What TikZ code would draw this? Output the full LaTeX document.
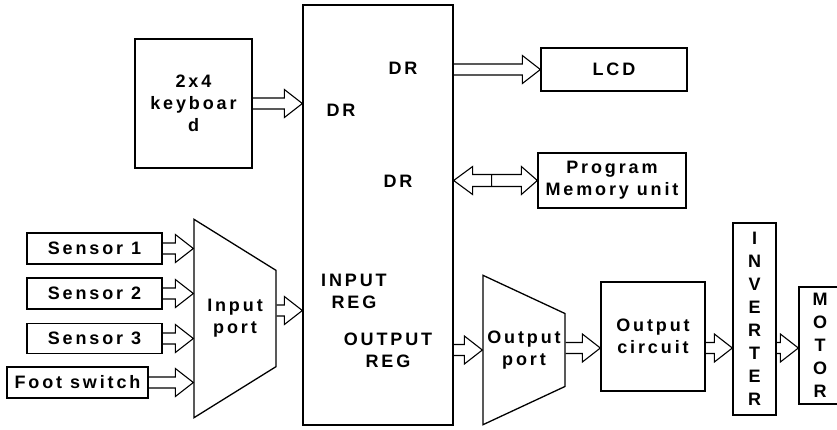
\documentclass[tikz,border=0pt]{standalone}
\usepackage{fontspec}
\setmainfont{Liberation Sans}[LetterSpace=16,UprightFont=*,BoldFont=* Bold]
\usetikzlibrary{calc,shapes.geometric}

\newcommand{\bus}[2]{%
  \draw[bus] let \p1=#1, \p2=#2 in
    (\x1,\y1+5.5pt) -- (\x2-18pt,\y1+5.5pt) -- (\x2-18pt,\y1+14pt) -- (\x2,\y1)
    -- (\x2-18pt,\y1-14pt) -- (\x2-18pt,\y1-5.5pt) -- (\x1,\y1-5.5pt);}
\newcommand{\dbus}[2]{%
  \draw[bus] let \p1=#1, \p2=#2 in
    (\x1,\y1) -- (\x1+19pt,\y1+14pt) -- (\x1+19pt,\y1+6pt) -- (\x2-16pt,\y1+6pt)
    -- (\x2-16pt,\y1+14pt) -- (\x2,\y1) -- (\x2-16pt,\y1-14pt) -- (\x2-16pt,\y1-6pt)
    -- (\x1+19pt,\y1-6pt) -- (\x1+19pt,\y1-14pt) -- cycle
    (\x1+38pt,\y1+6pt) -- (\x1+38pt,\y1-6pt);}

\begin{document}
\begin{tikzpicture}[x=1pt,y=-1pt,line width=1.3pt,
                    font=\fontsize{18}{22}\selectfont\bfseries]
  \tikzstyle{box}=[draw,rectangle,align=center,inner sep=0pt]
  \tikzstyle{port}=[draw,trapezium,shape border rotate=270,trapezium stretches=true,
                    align=center,inner sep=0pt]
  \tikzstyle{bus}=[line width=1.1pt,line join=miter]
  \tikzstyle{lbl}=[align=center,inner sep=0pt]
  \tikzstyle{tall}=[font=\fontsize{18}{23}\selectfont\bfseries]

  \useasboundingbox (0,0) rectangle (837,429);

  \node[box,minimum width=150,minimum height=420] (mcu) at (378,215) {};
  \node[lbl] (dr1)  at (403,68)  {DR};
  \node[lbl] (dr2)  at (341,110) {DR};
  \node[lbl] (dr3)  at (398,181) {DR};
  \node[lbl] (ireg) at (354,291) {INPUT\\REG};
  \node[lbl] (oreg) at (388,350) {OUTPUT\\REG};

  \node[box,minimum width=117,minimum height=129] (kbd) at (193.5,103.5) {2x4\\keyboar\\d};
  \node[box,minimum width=146,minimum height=43]  (lcd) at (614,69.5)   {LCD};
  \node[box,minimum width=148,minimum height=55]  (pmu) at (612,180.5)  {Program\\Memory unit};

  \node[box,minimum width=135,minimum height=31] (s1) at (94.5,248.5) {Sensor 1};
  \node[box,minimum width=135,minimum height=31] (s2) at (94.5,293.5) {Sensor 2};
  \node[box,minimum width=135,minimum height=30] (s3) at (94.5,338.5) {Sensor 3};
  \node[box,minimum width=141,minimum height=31] (fs) at (77.5,382.5) {Foot switch};

  \node[port,trapezium left angle=70,trapezium right angle=70,
        minimum width=199,minimum height=82] (inport) at (235,318.5) {Input\\port};
  \node[port,trapezium left angle=74.7,trapezium right angle=74.7,
        minimum width=150,minimum height=82] (outport) at (524,350) {Output\\port};

  \node[box,minimum width=104,minimum height=109] (ocir) at (653,336.5) {Output\\circuit};
  \node[box,tall,minimum width=43,minimum height=192] (inv) at (754.5,319) {I\\N\\V\\E\\R\\T\\E\\R};
  \node[box,tall,minimum width=42,minimum height=117] (mot) at (820,345.5) {M\\O\\T\\O\\R};

  \coordinate (inbus) at ([yshift=8pt]inport.east);
  \coordinate (outbus) at ([yshift=2pt]outport.east);

  \bus{(kbd.east)}{(mcu.west |- kbd.east)}
  \bus{(mcu.east |- lcd.west)}{(lcd.west)}
  \dbus{(mcu.east |- pmu.west)}{(pmu.west)}

  \bus{(s1.east)}{(inport.west |- s1.east)}
  \bus{(s2.east)}{(inport.west |- s2.east)}
  \bus{(s3.east)}{(inport.west |- s3.east)}
  \bus{(fs.east)}{(inport.west |- fs.east)}
  \bus{(inbus)}{(mcu.west |- inbus)}

  \bus{(mcu.east |- outport.west)}{(outport.west)}
  \bus{(outbus)}{(ocir.west |- outbus)}
  \bus{(ocir.east |- outbus)}{(inv.west |- outbus)}
  \bus{(inv.east |- outbus)}{(mot.west |- outbus)}
\end{tikzpicture}
\end{document}
